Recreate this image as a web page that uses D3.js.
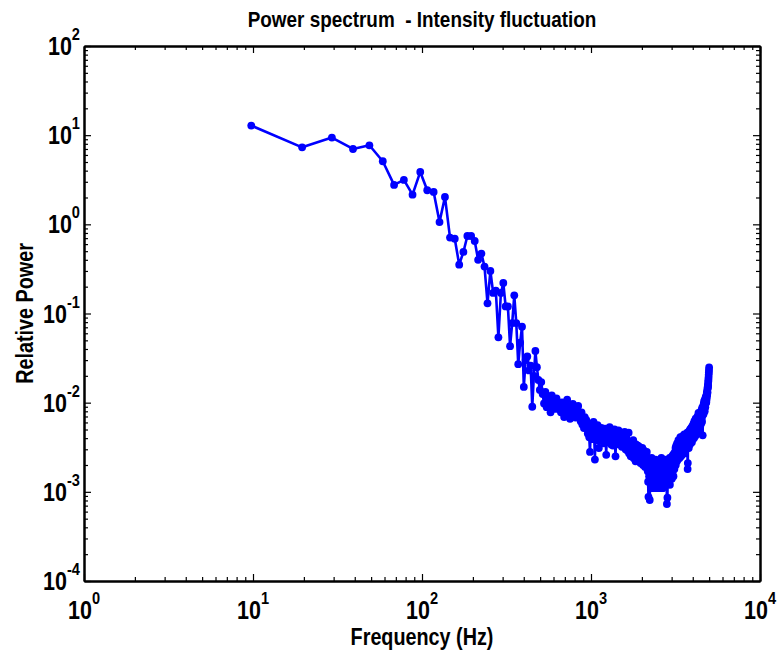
<!DOCTYPE html>
<html>

<head>
  <title>Power spectrum - Intensity fluctuation</title>
  <script src="https://d3js.org/d3.v7.min.js"></script>
  <style>
    body { margin: 0; background: #fff; }
    text { font-family: "Liberation Sans", Arial, sans-serif; font-weight: bold; fill: #000; }
  </style>
</head>

<body>
<svg id="chart"></svg>
</body>

<script>

  // spectrum bins: 1024 point FFT of a 10 kHz signal -> 9.766 Hz per bin
  var binHz = 10000 / 1024;

  // relative power per bin (bin 1 .. 512)
  var power = [
    12.8, 7.3, 9.4, 7.0, 7.7, 5.1, 2.77, 3.15, 2.15, 3.87, 2.41, 2.31, 1.06, 2.03, 0.71, 0.69,
    0.353, 0.49, 0.74, 0.74, 0.65, 0.40, 0.47, 0.336, 0.13, 0.30, 0.17, 0.18, 0.054, 0.17, 0.22, 0.12,
    0.12, 0.043, 0.078, 0.16, 0.078, 0.027, 0.047, 0.071, 0.015, 0.030, 0.033, 0.023, 0.026, 0.009, 0.020, 0.038,
    0.025, 0.018, 0.0139, 0.017,
    // 53 - 66
    0.0125, 0.0098, 0.0132, 0.0089, 0.0115, 0.0102, 0.0078, 0.0121, 0.0094, 0.0108, 0.0085, 0.0112, 0.0091, 0.0099,
    // 67 - 87
    0.0093, 0.0078, 0.0101, 0.0085, 0.0069, 0.0096, 0.0082, 0.0108, 0.0074, 0.0089, 0.0066, 0.0091, 0.0079, 0.0097,
    0.0072, 0.0086, 0.0068, 0.0081, 0.0075, 0.0092, 0.0070,
    // 88 - 96
    0.0071, 0.0062, 0.0078, 0.0057, 0.0066, 0.0052, 0.0069, 0.0059, 0.0064,
    // 97 - 115
    0.0052, 0.0045, 0.0058, 0.0041, 0.0028, 0.0049, 0.0054, 0.0039, 0.0047, 0.0061, 0.0043, 0.0023, 0.0050, 0.0044,
    0.0038, 0.0056, 0.0046, 0.0031, 0.0048,
    // 116 - 166
    0.0047, 0.0041, 0.0052, 0.0038, 0.0044, 0.0049, 0.0035, 0.0043, 0.0051, 0.0040, 0.0026, 0.0046, 0.0039, 0.0048,
    0.0036, 0.0042, 0.0053, 0.0037, 0.0045, 0.0034, 0.0041, 0.0048, 0.0033, 0.0044, 0.0039, 0.0050, 0.0036, 0.0025,
    0.0043, 0.0047, 0.0038, 0.0042, 0.0034, 0.0049, 0.0040, 0.0045, 0.0035, 0.0041, 0.0037, 0.0046, 0.0032, 0.0044,
    0.0039, 0.0036, 0.0042, 0.0034, 0.0047, 0.0038, 0.0030, 0.0041, 0.0035,
    // 167 - 221
    0.0034, 0.0029, 0.0037, 0.0031, 0.0046, 0.0027, 0.0033, 0.0030, 0.0036, 0.0025, 0.0032, 0.0028, 0.0035, 0.0026,
    0.0031, 0.0038, 0.0024, 0.0029, 0.0033, 0.0027, 0.0030, 0.0022, 0.0034, 0.0028, 0.0025, 0.0031, 0.0027, 0.0033,
    0.0023, 0.0029, 0.0026, 0.0032, 0.0024, 0.0028, 0.0021, 0.0030, 0.0025, 0.0027, 0.0023, 0.0031, 0.0026, 0.0020,
    0.0028, 0.0024, 0.0029, 0.0022, 0.0026, 0.0019, 0.0027, 0.0023, 0.0025, 0.0021, 0.0028, 0.0022, 0.0024,
    // 222 - 320
    0.0017, 0.0013, 0.00088, 0.0021, 0.0015, 0.0019, 0.00081, 0.0014, 0.0022, 0.0016, 0.0012, 0.0018, 0.0024, 0.0013,
    0.0017, 0.0011, 0.0020, 0.0015, 0.0019, 0.0014, 0.0016, 0.0012, 0.0021, 0.0017, 0.0013, 0.0023, 0.0015, 0.0011,
    0.0018, 0.0014, 0.0020, 0.0016, 0.0012, 0.0019, 0.0013, 0.0022, 0.0015, 0.0017, 0.0011, 0.0018, 0.0014, 0.0020,
    0.0016, 0.0012, 0.0019, 0.0024, 0.0015, 0.0013, 0.0021, 0.0017, 0.0011, 0.0018, 0.0014, 0.0022, 0.0016, 0.0012,
    0.0019, 0.0015, 0.0023, 0.0013, 0.0017, 0.0020, 0.0014, 0.0018, 0.0012, 0.0016, 0.00073, 0.0021, 0.00086, 0.0015,
    0.0019, 0.0013, 0.0022, 0.0017, 0.0014, 0.0020, 0.0016, 0.0024, 0.0012, 0.0018, 0.0021, 0.0015, 0.0019, 0.0023,
    0.0016, 0.0020, 0.0014, 0.0025, 0.0018, 0.0022, 0.0017, 0.0026, 0.0019, 0.0015, 0.0023, 0.0020, 0.0027, 0.0018,
    0.0024,
    // 321 - 371
    0.0022, 0.0028, 0.0025, 0.0031, 0.0020, 0.0027, 0.0033, 0.0024, 0.0029, 0.0022, 0.0035, 0.0026, 0.0030, 0.0023,
    0.0032, 0.0027, 0.0038, 0.0025, 0.0031, 0.0028, 0.0034, 0.0024, 0.0030, 0.0036, 0.0027, 0.0041, 0.0029, 0.0033,
    0.0025, 0.0037, 0.0031, 0.0028, 0.0039, 0.0026, 0.0034, 0.0030, 0.0042, 0.0029, 0.0035, 0.0032, 0.0040, 0.0028,
    0.0036, 0.0033, 0.0044, 0.0031, 0.0038, 0.0034, 0.0027, 0.0041, 0.0036,
    // 372 - 451
    0.0033, 0.0039, 0.0030, 0.0043, 0.0036, 0.0032, 0.0041, 0.0035, 0.0046, 0.0038, 0.0018, 0.0021, 0.0040, 0.0034,
    0.0044, 0.0037, 0.0031, 0.0042, 0.0048, 0.0036, 0.0040, 0.0045, 0.0034, 0.0050, 0.0039, 0.0043, 0.0037, 0.0047,
    0.0041, 0.0052, 0.0038, 0.0044, 0.0049, 0.0036, 0.0046, 0.0042, 0.0055, 0.0040, 0.0048, 0.0044, 0.0051, 0.0043,
    0.0058, 0.0046, 0.0040, 0.0053, 0.0048, 0.0062, 0.0045, 0.0050, 0.0057, 0.0042, 0.0054, 0.0049, 0.0066, 0.0047,
    0.0052, 0.0060, 0.0044, 0.0056, 0.0050, 0.0063, 0.0048, 0.0058, 0.0053, 0.0070, 0.0046, 0.0061, 0.0055, 0.0067,
    0.0051, 0.0077, 0.0057, 0.0064, 0.0049, 0.0072, 0.0059, 0.0066, 0.0054, 0.0075,
    // 452 - 512
    0.0062, 0.0056, 0.0071, 0.0060, 0.0068, 0.0079, 0.0064, 0.0058, 0.0074, 0.0069, 0.0083, 0.0066, 0.0077, 0.0061,
    0.0088, 0.0072, 0.0081, 0.0043, 0.0076, 0.0085, 0.0079, 0.0092, 0.0074, 0.0087, 0.0098, 0.0082, 0.0090, 0.0105,
    0.0086, 0.0095, 0.0080, 0.0101, 0.0093, 0.0110, 0.0089, 0.0104, 0.0097, 0.0116, 0.0100, 0.0108, 0.0113, 0.0102,
    0.0121, 0.0110, 0.0128, 0.0118, 0.0134, 0.0125, 0.0142, 0.0131, 0.0150, 0.0146, 0.0160, 0.0155, 0.0172, 0.0180,
    0.0191, 0.0205, 0.0218, 0.0232, 0.0248
  ];

  var xTicks = [1, 10, 100, 1000, 10000];
  var xTickExps = ["0", "1", "2", "3", "4"];
  var yTicks = [1e-4, 1e-3, 1e-2, 1e-1, 1, 10, 100];
  var yTickExps = ["-4", "-3", "-2", "-1", "0", "1", "2"];

  var width = 782;
  var height = 652;
  var margin = {top: 46, right: 22, bottom: 71, left: 84};
  var squeeze = 0.86; // labels in the original are a condensed bold face

  var svg = d3.select("#chart")
    .attr("width", width)
    .attr("height", height);

  var x = d3.scaleLog()
    .domain([1, 10000])
    .range([margin.left, width - margin.right]);

  var y = d3.scaleLog()
    .domain([1e-4, 100])
    .range([height - margin.bottom, margin.top]);

  var data = power.map((p, i) => ({f: (i + 1) * binHz, p: p}));

  // ticks on all four sides, pointing inward
  function addAxis(axis, tx, ty) {
    var g = svg.append("g")
      .attr("transform", "translate(" + tx + "," + ty + ")")
      .call(axis);
    g.selectAll("path, line").attr("stroke", "#000").attr("stroke-width", 1.2);
    g.select(".domain").attr("stroke-width", 2);
    g.selectAll("text").remove();
    return g;
  }

  var xMinor = x.ticks().filter(t => xTicks.indexOf(t) == -1);
  var yMinor = y.ticks().filter(t => yTicks.indexOf(t) == -1);
  var x0 = x.range()[0], x1 = x.range()[1];
  var y0 = y.range()[0], y1 = y.range()[1];

  [[d3.axisBottom, y0], [d3.axisTop, y1]].forEach(function(a) {
    addAxis(a[0](x).tickValues(xMinor).tickSize(-4).tickSizeOuter(0).tickFormat(""), 0, a[1]);
    addAxis(a[0](x).tickValues(xTicks).tickSize(-7).tickSizeOuter(0).tickFormat(""), 0, a[1]);
  });
  [[d3.axisLeft, x0], [d3.axisRight, x1]].forEach(function(a) {
    addAxis(a[0](y).tickValues(yMinor).tickSize(-4).tickSizeOuter(0).tickFormat(""), a[1], 0);
    addAxis(a[0](y).tickValues(yTicks).tickSize(-7).tickSizeOuter(0).tickFormat(""), a[1], 0);
  });

  // "10" with a raised exponent
  function powerLabel(px, py, exp, anchor) {
    var t = svg.append("g")
      .attr("transform", "translate(" + px + "," + py + ") scale(" + squeeze + ",1)")
      .append("text")
      .attr("text-anchor", anchor)
      .style("font-size", "25px");
    t.append("tspan").text("10");
    t.append("tspan")
      .attr("dy", -15)
      .style("font-size", "17px")
      .text(exp);
  }

  xTicks.forEach((t, i) => powerLabel(x(t), y0 + 38, xTickExps[i], "middle"));
  yTicks.forEach((t, i) => powerLabel(x0 - 4, y(t) + 9, yTickExps[i], "end"));

  // the trace
  var line = d3.line()
    .x(d => x(d.f))
    .y(d => y(d.p));

  svg.append("path")
    .datum(data)
    .attr("d", line)
    .attr("fill", "none")
    .attr("stroke", "#0000ff")
    .attr("stroke-width", 2.6)
    .attr("stroke-linejoin", "round");

  svg.append("g")
    .selectAll("circle")
    .data(data).enter()
    .append("circle")
    .attr("cx", d => x(d.f))
    .attr("cy", d => y(d.p))
    .attr("r", 3.9)
    .attr("fill", "#0000ff");

  // titles
  svg.append("g")
    .attr("transform", "translate(" + (x0 + x1) / 2 + ",27) scale(" + squeeze + ",1)")
    .append("text")
    .attr("text-anchor", "middle")
    .style("font-size", "22px")
    .style("white-space", "pre")
    .text("Power spectrum  - Intensity fluctuation");

  svg.append("g")
    .attr("transform", "translate(" + (x0 + x1) / 2 + ",645) scale(" + squeeze + ",1)")
    .append("text")
    .attr("text-anchor", "middle")
    .style("font-size", "23px")
    .text("Frequency (Hz)");

  svg.append("g")
    .attr("transform", "translate(33," + (y0 + y1) / 2 + ") rotate(-90) scale(" + squeeze + ",1)")
    .append("text")
    .attr("text-anchor", "middle")
    .style("font-size", "23px")
    .text("Relative Power");

</script>

</html>
